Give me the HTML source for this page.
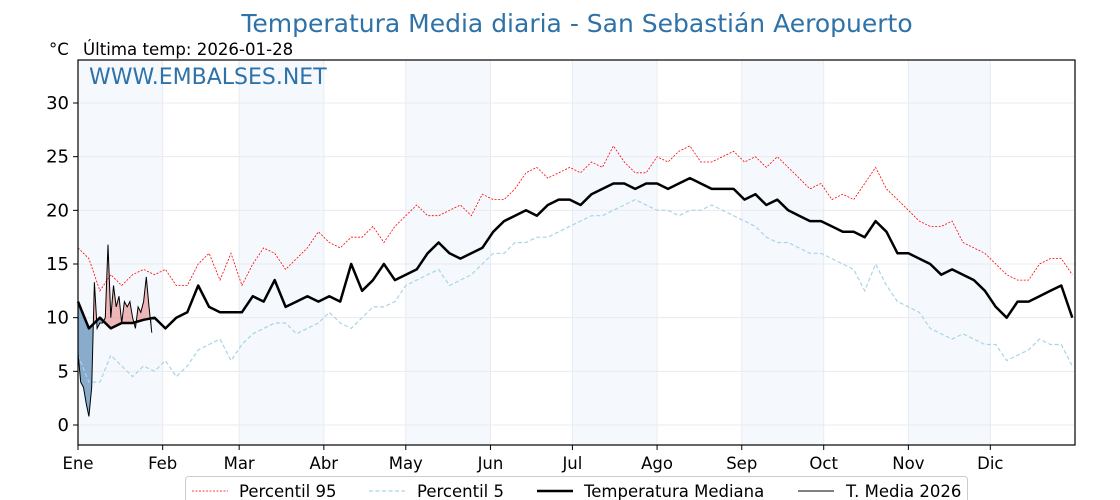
<!DOCTYPE html>
<html><head><meta charset="utf-8"><style>
body{margin:0;background:#fff;}
svg{display:block;font-family:"DejaVu Sans","Liberation Sans",sans-serif;}
</style></head><body>
<svg id="chart" width="1120" height="500" viewBox="0 0 1120 500" xmlns="http://www.w3.org/2000/svg">
<text x="577" y="32" text-anchor="middle" font-size="25" fill="#2f72a8">Temperatura Media diaria - San Sebastián Aeropuerto</text>
<text x="49" y="55" font-size="16.5" fill="#000">°C</text>
<text x="83" y="55" font-size="16.6" fill="#000">Última temp: 2026-01-28</text>
<g id="bands"></g>
<g id="grid"></g>
<g id="marks"></g>
<text x="89" y="84" font-size="22" fill="#2f72a8">WWW.EMBALSES.NET</text>
<rect x="78" y="60" width="997" height="385" fill="none" stroke="#000" stroke-width="1.2"/>
<g id="axes"></g>
<g>
<rect x="185.5" y="476.5" width="782" height="30" rx="3" fill="#fff" stroke="#ccc"/>
<line x1="192" y1="491" x2="228" y2="491" stroke="red" stroke-width="0.8" stroke-dasharray="2,1.5"/>
<text x="239" y="497" font-size="16.5">Percentil 95</text>
<line x1="369" y1="491" x2="405" y2="491" stroke="#a8d4e6" stroke-width="1.2" stroke-dasharray="4,2.5"/>
<text x="417" y="497" font-size="16.5">Percentil 5</text>
<line x1="537" y1="491" x2="573" y2="491" stroke="#000" stroke-width="2.5"/>
<text x="584" y="497" font-size="16.5">Temperatura Mediana</text>
<line x1="798" y1="491" x2="834" y2="491" stroke="#000" stroke-width="1"/>
<text x="846" y="497" font-size="16.5">T. Media 2026</text>
</g>
</svg>
<script>
const months=["Ene","Feb","Mar","Abr","May","Jun","Jul","Ago","Sep","Oct","Nov","Dic"];
const monthStartDays=[0,31,59,90,120,151,181,212,243,273,304,334];
const yTicks=[0,5,10,15,20,25,30];
const statDays=[0,4,8,12,16,20,24,28,32,36,40,44,48,52,56,60,64,68,72,76,80,84,88,92,96,100,104,108,112,116,120,124,128,132,136,140,144,148,152,156,160,164,168,172,176,180,184,188,192,196,200,204,208,212,216,220,224,228,232,236,240,244,248,252,256,260,264,268,272,276,280,284,288,292,296,300,304,308,312,316,320,324,328,332,336,340,344,348,352,356,360,364];
const medianVals=[11.5,9,10,9,9.5,9.5,9.8,10,9,10,10.5,13,11,10.5,10.5,10.5,12,11.5,13.5,11,11.5,12,11.5,12,11.5,15,12.5,13.5,15,13.5,14,14.5,16,17,16,15.5,16,16.5,18,19,19.5,20,19.5,20.5,21,21,20.5,21.5,22,22.5,22.5,22,22.5,22.5,22,22.5,23,22.5,22,22,22,21,21.5,20.5,21,20,19.5,19,19,18.5,18,18,17.5,19,18,16,16,15.5,15,14,14.5,14,13.5,12.5,11,10,11.5,11.5,12,12.5,13,10];
const p95Vals=[16.5,15.5,12.5,14,13,14,14.5,14,14.5,13,13,15,16,13.5,16,13,15,16.5,16,14.5,15.5,16.5,18,17,16.5,17.5,17.5,18.5,17,18.5,19.5,20.5,19.5,19.5,20,20.5,19.5,21.5,21,21,22,23.5,24,23,23.5,24,23.5,24.5,24,26,24.5,23.5,23.5,25,24.5,25.5,26,24.5,24.5,25,25.5,24.5,25,24,25,24,23,22,22.5,21,21.5,21,22.5,24,22,21,20,19,18.5,18.5,19,17,16.5,16,15,14,13.5,13.5,15,15.5,15.5,14];
const p5Vals=[6.5,4,4,6.5,5.5,4.5,5.5,5,6,4.5,5.5,7,7.5,8,6,7.5,8.5,9,9.5,9.5,8.5,9,9.5,10.5,9.5,9,10,11,11,11.5,13,13.5,14,14.5,13,13.5,14,15,16,16,17,17,17.5,17.5,18,18.5,19,19.5,19.5,20,20.5,21,20.5,20,20,19.5,20,20,20.5,20,19.5,19,18.5,17.5,17,17,16.5,16,16,15.5,15,14.5,12.5,15,13,11.5,11,10.5,9,8.5,8,8.5,8,7.5,7.5,6,6.5,7,8,7.5,7.5,5.5];
const days2026=[0,1,2,3,4,5,6,7,8,9,10,11,12,13,14,15,16,17,18,19,20,21,22,23,24,25,26,27];
const vals2026=[6.7,4,3.5,2,0.8,3.5,13.3,9,9.5,9.5,10,16.8,10,13,11,12,9.5,11.5,11,11.5,10,9,11,10.5,11.5,13.8,11,8.6];

const X0=78,X1=1075,Y0=60,Y1=445;
const x=d=>X0+d*(X1-X0)/365;
const y=v=>425-v*10.733;
const NS="http://www.w3.org/2000/svg";
function mk(tag,attrs,parent){const e=document.createElementNS(NS,tag);for(const k in attrs)e.setAttribute(k,attrs[k]);parent.appendChild(e);return e;}
const bands=document.getElementById('bands'),grid=document.getElementById('grid'),marks=document.getElementById('marks'),axes=document.getElementById('axes');
const ends=monthStartDays.concat([365]);
for(let i=0;i<12;i+=2){
  const r=mk('rect',{x:x(ends[i]),y:Y0,width:x(ends[i+1])-x(ends[i]),height:Y1-Y0,fill:'#f5f9fd'},bands);
  
  
}
monthStartDays.forEach((d,i)=>{
  const l=mk('line',{x1:x(d),x2:x(d),y1:Y0,y2:Y1,stroke:'#e8ebef','stroke-width':1},grid);
  
  
  const t=mk('line',{x1:x(d),x2:x(d),y1:Y1,y2:Y1+5,stroke:'#000'},axes);
  
  
  const tx=mk('text',{x:x(d),y:Y1+24,'font-size':16.5,'text-anchor':'middle'},axes);
  tx.textContent=months[i];
  
  
});
yTicks.forEach(v=>{
  const l=mk('line',{x1:X0,x2:X1,y1:y(v),y2:y(v),stroke:'#e8ebef','stroke-width':1},grid);
  
  
  const t=mk('line',{x1:X0-5,x2:X0,y1:y(v),y2:y(v),stroke:'#000'},axes);
  
  
  const tx=mk('text',{x:X0-9,y:y(v)+6,'font-size':18,'text-anchor':'end'},axes);
  tx.textContent=v;
  
  
});
const pts=(ds,vs)=>ds.map((d,i)=>x(d).toFixed(1)+','+y(vs[i]).toFixed(1)).join(' ');
function medAt(d){for(let i=0;i<statDays.length-1;i++){if(d>=statDays[i]&&d<=statDays[i+1]){const t=(d-statDays[i])/(statDays[i+1]-statDays[i]);return medianVals[i]+t*(medianVals[i+1]-medianVals[i]);}}return medianVals[medianVals.length-1];}
const medLine=days2026.map(d=>[x(d),y(medAt(d))]);
const defs=mk('defs',{},marks);
const cpA=mk('clipPath',{id:'above'},defs);
mk('polygon',{points:`${X0},${Y0} `+medLine.map(p=>p.join(',')).join(' ')+` ${medLine[medLine.length-1][0]},${Y0}`},cpA);
const cpB=mk('clipPath',{id:'below'},defs);
mk('polygon',{points:`${X0},${Y1} `+medLine.map(p=>p.join(',')).join(' ')+` ${medLine[medLine.length-1][0]},${Y1}`},cpB);
const areaPts=pts(days2026,vals2026)+' '+medLine.slice().reverse().map(p=>p.join(',')).join(' ');
const fa=mk('polygon',{points:areaPts,fill:'#e88a8a','fill-opacity':0.6,'clip-path':'url(#above)'},marks);


const fb=mk('polygon',{points:areaPts,fill:'#2f6ea5','fill-opacity':0.55,'clip-path':'url(#below)'},marks);


const p95=mk('polyline',{points:pts(statDays,p95Vals),fill:'none',stroke:'red','stroke-width':0.8,'stroke-dasharray':'2,1.5'},marks);


const p5=mk('polyline',{points:pts(statDays,p5Vals),fill:'none',stroke:'#a8d4e6','stroke-width':1.2,'stroke-dasharray':'4,2.5'},marks);


const med=mk('polyline',{points:pts(statDays,medianVals),fill:'none',stroke:'#000','stroke-width':2.5,'stroke-linejoin':'round'},marks);


const l26=mk('polyline',{points:pts(days2026,vals2026),fill:'none',stroke:'#000','stroke-width':1},marks);


</script>
</body></html>
